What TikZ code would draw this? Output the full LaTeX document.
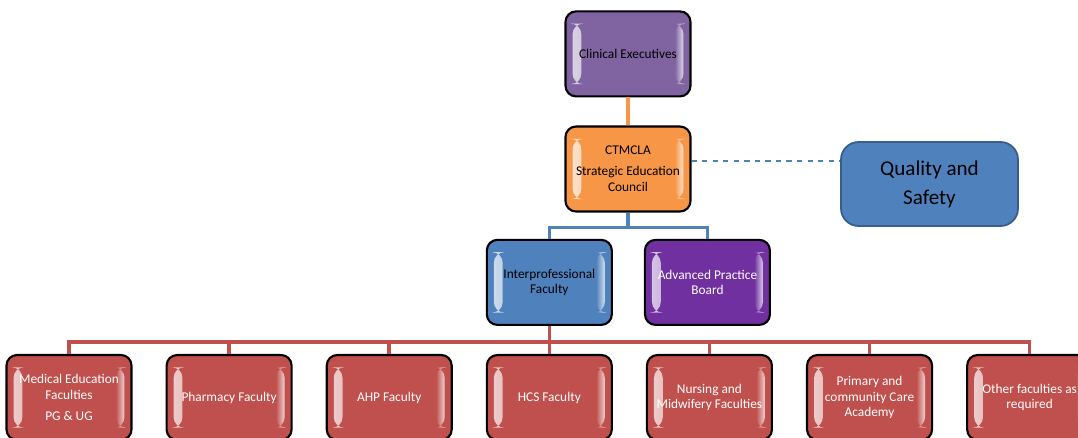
\documentclass[tikz,border=0pt]{standalone}
\usepackage{fontspec}
\setmainfont{Carlito}
\usepackage{tikz}
\usetikzlibrary{positioning,calc,fadings}

\definecolor{execpurple}{HTML}{8064A2}
\definecolor{councilorange}{HTML}{F79646}
\definecolor{facblue}{HTML}{4F81BD}
\definecolor{boardpurple}{HTML}{7030A0}
\definecolor{facred}{HTML}{C0504D}
\definecolor{qualedge}{HTML}{385D8A}

\begin{document}
\begin{tikzpicture}[
  bevel/.style={path picture={
    \fill[white,path fading=east,opacity=.75] ([xshift=4pt,yshift=-7pt]path picture bounding box.north west) rectangle ([xshift=9pt,yshift=7pt]path picture bounding box.south west);
    \fill[white,path fading=west,opacity=.75] ([xshift=-4pt,yshift=-7pt]path picture bounding box.north east) rectangle ([xshift=-9pt,yshift=7pt]path picture bounding box.south east);
  }},
  orgbox/.style={draw=black,line width=1.2pt,rounded corners=6pt,bevel,
    minimum width=2.5cm,minimum height=1.7cm,inner sep=0pt,align=center,
    font=\fontsize{7.6}{9}\selectfont},
  redbox/.style={orgbox,fill=facred,text=white},
  link/.style={line width=2pt},
  dashline/.style={draw=facblue,dashed,line width=.6pt}
]
  \useasboundingbox (0,0) rectangle (21.56,8.74);
  \clip (0,0) rectangle (21.56,8.74);

  % bottom row of faculties
  \node[redbox] (med) at (1.38,0.79) {Medical Education\\Faculties\\[3pt]PG \& UG};
  \node[redbox] (pharm) [right=.66cm of med] {Pharmacy Faculty};
  \node[redbox] (ahp) [right=.66cm of pharm] {AHP Faculty};
  \node[redbox] (hcs) [right=.66cm of ahp] {HCS Faculty};
  \node[redbox] (nurse) [right=.66cm of hcs] {Nursing and\\Midwifery Faculties};
  \node[redbox] (prim) [right=.66cm of nurse] {Primary and\\community Care\\Academy};
  \node[redbox] (other) [right=.66cm of prim] {Other faculties as\\required};

  % upper levels
  \node[orgbox,fill=facblue] (inter) [above=.56cm of hcs] {Interprofessional\\Faculty};
  \node[orgbox,fill=boardpurple,text=white] (adv) [right=.62cm of inter] {Advanced Practice\\Board};
  \node[orgbox,fill=councilorange] (ctm) at (12.56,5.36) {CTMCLA\\[3pt]Strategic Education\\Council};
  \node[orgbox,fill=execpurple] (clin) [above=.56cm of ctm] {Clinical Executives};
  \node[draw=qualedge,fill=facblue,line width=1pt,rounded corners=10pt,
    minimum width=3.54cm,minimum height=1.68cm,align=center,
    font=\fontsize{12}{16.4}\selectfont] (qual) at (18.59,5.06) {Quality and\\Safety};

  % connectors
  \draw[link,councilorange] (clin) -- (ctm);
  \draw[link,facblue] (ctm.south) -- ++(0,-.3) -| (inter.north);
  \draw[link,facblue] (ctm.south) -- ++(0,-.3) -| (adv.north);
  \foreach \f in {med,pharm,ahp,hcs,nurse,prim,other}
    \draw[link,facred] (inter.south) -- ++(0,-.32) -| (\f.north);
  \draw[dashline] ([yshift=.16cm]ctm.east) -- ([yshift=.16cm]ctm.east -| qual.west);

\end{tikzpicture}
\end{document}
